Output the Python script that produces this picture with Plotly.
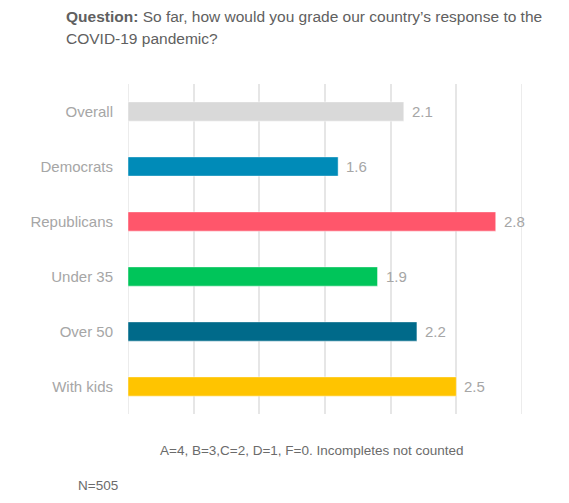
import plotly.graph_objects as go

categories = ["Overall", "Democrats", "Republicans", "Under 35", "Over 50", "With kids"]
values = [2.1, 1.6, 2.8, 1.9, 2.2, 2.5]
colors = ["#d9d9d9", "#008bb8", "#ff566b", "#00c55a", "#006a8a", "#ffc400"]
title_line1 = "<b>Question:</b> So far, how would you grade our country\u2019s response to the"
title_line2 = "COVID-19 pandemic?"
footnote = "A=4, B=3,C=2, D=1, F=0. Incompletes not counted"
sample = "N=505"
grid_edges = [0, 3]

FONT = "Liberation Sans, Arial, Helvetica, sans-serif"

fig = go.Figure(
    go.Bar(
        x=values,
        y=categories,
        orientation="h",
        marker=dict(color=colors, line=dict(color="rgba(255,255,255,0.45)", width=1)),
        cliponaxis=False,
        width=0.35,
    )
)

L, R, T, B = 128, 47, 84, 89
W, H = 569, 503
pw, ph = W - L - R, H - T - B

def px_x(x):
    return (x - L) / pw

def px_y(y):
    return (H - B - y) / ph

for gx in grid_edges:
    fig.add_shape(type="line", xref="x", yref="paper", x0=gx, x1=gx, y0=0, y1=1,
                  line=dict(color="#e6e6e6", width=1.5), layer="below")

annotations = [
    dict(text=f"{v:.1f}", x=v, y=c, xref="x", yref="y", xanchor="left", yanchor="middle",
         xshift=6, showarrow=False, font=dict(color="#a6a6a6", size=15, family=FONT))
    for c, v in zip(categories, values)
]
annotations += [
    dict(text=title_line1, xref="paper", yref="paper", x=px_x(64), y=px_y(16.5),
         xanchor="left", yanchor="middle", showarrow=False,
         font=dict(size=15.5, color="#606060", family=FONT)),
    dict(text=title_line2, xref="paper", yref="paper", x=px_x(64), y=px_y(38),
         xanchor="left", yanchor="middle", showarrow=False,
         font=dict(size=15.5, color="#606060", family=FONT)),
    dict(text=footnote, xref="paper", yref="paper", x=px_x(158), y=px_y(450),
         xanchor="left", yanchor="middle", showarrow=False,
         font=dict(size=13.5, color="#6b6b6b", family=FONT)),
    dict(text=sample, xref="paper", yref="paper", x=px_x(76), y=px_y(485),
         xanchor="left", yanchor="middle", showarrow=False,
         font=dict(size=13.5, color="#6b6b6b", family=FONT)),
]

fig.update_layout(
    width=W,
    height=H,
    margin=dict(l=L, r=R, t=T, b=B),
    paper_bgcolor="white",
    plot_bgcolor="white",
    showlegend=False,
    font=dict(family=FONT),
    xaxis=dict(
        range=[0, 3],
        dtick=0.5,
        showticklabels=False,
        showgrid=True,
        gridcolor="#e6e6e6",
        gridwidth=1.5,
        zeroline=False,
        showline=False,
        fixedrange=True,
    ),
    yaxis=dict(
        autorange="reversed",
        showgrid=False,
        zeroline=False,
        showline=False,
        ticks="",
        ticklabelstandoff=14,
        tickfont=dict(color="#a6a6a6", size=15, family=FONT),
    ),
    annotations=annotations,
)

fig.write_html("out.html")
